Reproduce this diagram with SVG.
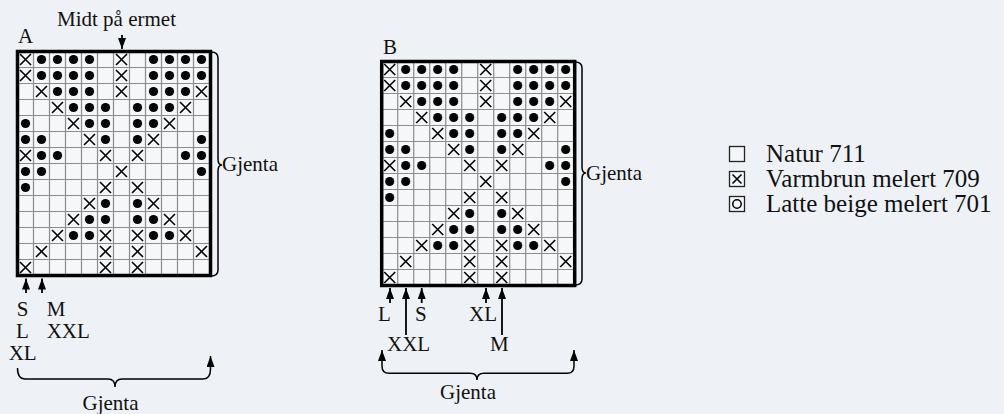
<svg xmlns="http://www.w3.org/2000/svg" xmlns:xlink="http://www.w3.org/1999/xlink" width="1004" height="414" viewBox="0 0 1004 414">
<style>
.t{font-family:"Liberation Serif","Times New Roman",serif;font-size:21px;fill:#111}
.lg{font-family:"Liberation Serif","Times New Roman",serif;font-size:25px;fill:#111}
.grid{fill:none;stroke:#8c8c8c;stroke-width:1.2}
.frame{fill:none;stroke:#000;stroke-width:3.5}
.xs{fill:none;stroke:#000;stroke-width:1.6}
.ln{fill:none;stroke:#000;stroke-width:1.8}
.br{fill:none;stroke:#000;stroke-width:1.5}
.lb{fill:#f4f6f9;stroke:#222;stroke-width:1.3}
</style>
<defs>
<marker id="ah" markerUnits="userSpaceOnUse" markerWidth="11" markerHeight="8" viewBox="0 0 11 8" refX="11" refY="4" orient="auto-start-reverse"><path d="M0,0L11,4L0,8z" fill="#000"/></marker>
<path id="x" class="xs" d="M-5.5,-5.5L5.5,5.5M5.5,-5.5L-5.5,5.5"/>
<circle id="d" r="4.6" fill="#000"/>
<g id="chart">
<rect x="0" y="0" width="192" height="224" fill="#f5f7f9"/>
<path class="grid" d="M16,0V224M32,0V224M48,0V224M64,0V224M80,0V224M96,0V224M112,0V224M128,0V224M144,0V224M160,0V224M176,0V224M0,16H192M0,32H192M0,48H192M0,64H192M0,80H192M0,96H192M0,112H192M0,128H192M0,144H192M0,160H192M0,176H192M0,192H192M0,208H192"/>
<use href="#x" x="8" y="8"/><use href="#d" x="24" y="8"/><use href="#d" x="40" y="8"/><use href="#d" x="56" y="8"/><use href="#d" x="72" y="8"/><use href="#x" x="104" y="8"/><use href="#d" x="136" y="8"/><use href="#d" x="152" y="8"/><use href="#d" x="168" y="8"/><use href="#d" x="184" y="8"/>
<use href="#x" x="8" y="24"/><use href="#d" x="24" y="24"/><use href="#d" x="40" y="24"/><use href="#d" x="56" y="24"/><use href="#d" x="72" y="24"/><use href="#x" x="104" y="24"/><use href="#d" x="136" y="24"/><use href="#d" x="152" y="24"/><use href="#d" x="168" y="24"/><use href="#d" x="184" y="24"/>
<use href="#x" x="24" y="40"/><use href="#d" x="40" y="40"/><use href="#d" x="56" y="40"/><use href="#d" x="72" y="40"/><use href="#x" x="104" y="40"/><use href="#d" x="136" y="40"/><use href="#d" x="152" y="40"/><use href="#d" x="168" y="40"/><use href="#x" x="184" y="40"/>
<use href="#x" x="40" y="56"/><use href="#d" x="56" y="56"/><use href="#d" x="72" y="56"/><use href="#d" x="88" y="56"/><use href="#d" x="120" y="56"/><use href="#d" x="136" y="56"/><use href="#d" x="152" y="56"/><use href="#x" x="168" y="56"/>
<use href="#d" x="8" y="72"/><use href="#x" x="56" y="72"/><use href="#d" x="72" y="72"/><use href="#d" x="88" y="72"/><use href="#d" x="120" y="72"/><use href="#d" x="136" y="72"/><use href="#x" x="152" y="72"/>
<use href="#d" x="8" y="88"/><use href="#d" x="24" y="88"/><use href="#x" x="72" y="88"/><use href="#d" x="88" y="88"/><use href="#d" x="120" y="88"/><use href="#x" x="136" y="88"/><use href="#d" x="184" y="88"/>
<use href="#x" x="8" y="104"/><use href="#d" x="24" y="104"/><use href="#d" x="40" y="104"/><use href="#x" x="88" y="104"/><use href="#x" x="120" y="104"/><use href="#d" x="168" y="104"/><use href="#d" x="184" y="104"/>
<use href="#d" x="8" y="120"/><use href="#d" x="24" y="120"/><use href="#x" x="104" y="120"/><use href="#d" x="184" y="120"/>
<use href="#d" x="8" y="136"/><use href="#x" x="88" y="136"/><use href="#x" x="120" y="136"/>
<use href="#x" x="72" y="152"/><use href="#d" x="88" y="152"/><use href="#d" x="120" y="152"/><use href="#x" x="136" y="152"/>
<use href="#x" x="56" y="168"/><use href="#d" x="72" y="168"/><use href="#d" x="88" y="168"/><use href="#d" x="120" y="168"/><use href="#d" x="136" y="168"/><use href="#x" x="152" y="168"/>
<use href="#x" x="40" y="184"/><use href="#d" x="56" y="184"/><use href="#d" x="72" y="184"/><use href="#x" x="88" y="184"/><use href="#x" x="120" y="184"/><use href="#d" x="136" y="184"/><use href="#d" x="152" y="184"/><use href="#x" x="168" y="184"/>
<use href="#x" x="24" y="200"/><use href="#x" x="88" y="200"/><use href="#x" x="120" y="200"/><use href="#x" x="184" y="200"/>
<use href="#x" x="8" y="216"/><use href="#x" x="88" y="216"/><use href="#x" x="120" y="216"/>
<rect class="frame" x="0" y="0" width="193" height="224"/>
</g>
</defs>
<rect width="1004" height="414" fill="#eef2f6"/>

<g id="chartA">
<use href="#chart" x="17.5" y="51.5"/>
<text class="t" x="18" y="43">A</text>
<text class="t" x="57" y="26">Midt på ermet</text>
<text class="t" x="222" y="171">Gjenta</text>
</g>

<g id="chartB">
<use href="#chart" x="381.7" y="61.5"/>
<text class="t" x="383" y="54">B</text>
<text class="t" x="586" y="180">Gjenta</text>
</g>

<g id="sizesA">
<text class="t" x="22.5" y="316" text-anchor="middle">S</text>
<text class="t" x="46.7" y="316">M</text>
<text class="t" x="22.5" y="338" text-anchor="middle">L</text>
<text class="t" x="46.7" y="338">XXL</text>
<text class="t" x="22.7" y="360" text-anchor="middle">XL</text>
<text class="t" x="110.5" y="410" text-anchor="middle">Gjenta</text>
</g>

<g id="sizesB">
<text class="t" x="378" y="321">L</text>
<text class="t" x="415" y="321">S</text>
<text class="t" x="469" y="321">XL</text>
<text class="t" x="387" y="351">XXL</text>
<text class="t" x="490" y="351">M</text>
<text class="t" x="468" y="399" text-anchor="middle">Gjenta</text>
</g>

<g id="legend">
<rect class="lb" x="729.5" y="146.5" width="15" height="15"/>
<text class="lg" x="766" y="162">Natur 711</text>
<rect class="lb" x="729.5" y="171.5" width="15" height="15"/>
<path class="xs" d="M732.5,174.5L741.5,183.5M741.5,174.5L732.5,183.5"/>
<text class="lg" x="766" y="187">Varmbrun melert 709</text>
<rect class="lb" x="729.5" y="196.5" width="15" height="15"/>
<circle cx="737" cy="204" r="4.2" fill="none" stroke="#000" stroke-width="1.5"/>
<text class="lg" x="766" y="212">Latte beige melert 701</text>
</g>

<g id="connectors">
<line class="ln" x1="122" y1="35" x2="122" y2="49" marker-end="url(#ah)"/>
<line class="ln" x1="26" y1="293" x2="26" y2="278.5" marker-end="url(#ah)"/>
<line class="ln" x1="42" y1="293" x2="42" y2="278.5" marker-end="url(#ah)"/>
<path class="br" d="M17.5,368 Q17.5,379 25,379 L108,379 Q115,379 115,387 Q115,379 122,379 L203,379 Q210.5,379 210.5,369 L210.5,356" marker-end="url(#ah)"/>
<path class="br" d="M211,52 Q218,52 218,58 L218,159 Q218,165 222,165 Q218,165 218,171 L218,270 Q218,276 211,276"/>
<line class="ln" x1="390" y1="303" x2="390" y2="288" marker-end="url(#ah)"/>
<line class="ln" x1="406" y1="335" x2="406" y2="288" marker-end="url(#ah)"/>
<line class="ln" x1="421.7" y1="303" x2="421.7" y2="288" marker-end="url(#ah)"/>
<line class="ln" x1="486" y1="303" x2="486" y2="288" marker-end="url(#ah)"/>
<line class="ln" x1="502" y1="335" x2="502" y2="288" marker-end="url(#ah)"/>
<path class="br" d="M382,350 L382,366 Q382,373.3 389,373.3 L470,373.3 Q477,373.3 477,380 Q477,373.3 484,373.3 L567,373.3 Q574,373.3 574,366 L574,350" marker-start="url(#ah)" marker-end="url(#ah)"/>
<path class="br" d="M575,62 Q582,62 582,68 L582,167 Q582,173 586,173 Q582,173 582,179 L582,279 Q582,285 575,285"/>
</g>
</svg>
